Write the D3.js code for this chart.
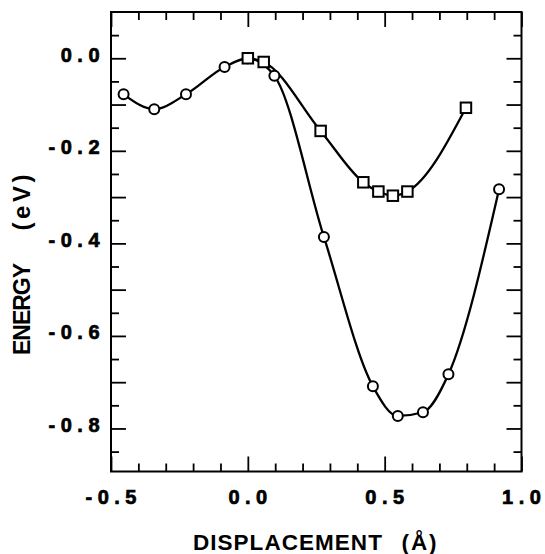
<!DOCTYPE html>
<html>
<head>
<meta charset="utf-8">
<script src="https://cdn.jsdelivr.net/npm/d3@7"></script>
<style>
  html, body { margin: 0; padding: 0; background: #fff; }
  svg { display: block; }
  text { font-family: "Liberation Sans", Arial, Helvetica, sans-serif; font-weight: bold; fill: #000; }
</style>
</head>
<body>
<svg id="chart" width="545" height="554"></svg>
<script>
// ---- data ----
const circleX = [-0.454, -0.342, -0.226, -0.085, 0.0, 0.097, 0.278, 0.457, 0.548, 0.640, 0.733, 0.918];
const circleY = [-0.078, -0.110, -0.078, -0.019, 0.0, -0.038, -0.386, -0.709, -0.773, -0.765, -0.683, -0.283];
const squareX = [0.0, 0.058, 0.266, 0.422, 0.477, 0.530, 0.583, 0.797];
const squareY = [0.0, -0.008, -0.157, -0.268, -0.288, -0.297, -0.288, -0.107];

const xTickLabels = [-0.5, 0.0, 0.5, 1.0];
const xMajorTicks = [-0.5, 0.0, 0.5, 1.0];
const xMinorTicks = [-0.4, -0.3, -0.2, -0.1, 0.1, 0.2, 0.3, 0.4, 0.6, 0.7, 0.8, 0.9];
const yTickLabels = [0.0, -0.2, -0.4, -0.6, -0.8];
const yMajorTicks = [0.0, -0.1, -0.2, -0.3, -0.4, -0.5, -0.6, -0.7, -0.8];
const yMinorTicks = [0.05, -0.05, -0.15, -0.25, -0.35, -0.45, -0.55, -0.65, -0.75, -0.85];

const xTitle = ["DISPLACEMENT", "(Å)"];
const yTitle = ["ENERGY", "(eV)"];

// ---- layout ----
const L = 111, R = 521.5, T = 12, B = 471.5;
const x = d3.scaleLinear().domain([-0.5, 1.0]).range([L, R]);
const y = d3.scaleLinear().domain([0.1, -0.893]).range([T, B]);

const svg = d3.select("#chart");
const fmt = d3.format(".1f");
const fmtLabel = v => fmt(v).replace("−", "-");

// ticks (inward) using d3 axes
function addAxis(axisGen, transform, values, size) {
  const g = svg.append("g").attr("transform", transform)
    .call(axisGen.tickValues(values).tickSize(size).tickSizeOuter(0).tickFormat(""));
  g.select(".domain").remove();
  g.selectAll(".tick line").attr("stroke", "#000").attr("stroke-width", 1.8);
  return g;
}
addAxis(d3.axisBottom(x), `translate(0,${B})`, xMajorTicks, -15);
addAxis(d3.axisBottom(x), `translate(0,${B})`, xMinorTicks, -8);
addAxis(d3.axisTop(x), `translate(0,${T})`, xMajorTicks, -15);
addAxis(d3.axisTop(x), `translate(0,${T})`, xMinorTicks, -8);
addAxis(d3.axisLeft(y), `translate(${L},0)`, yMajorTicks, -15);
addAxis(d3.axisLeft(y), `translate(${L},0)`, yMinorTicks, -8);
addAxis(d3.axisRight(y), `translate(${R},0)`, yMajorTicks, -15);
addAxis(d3.axisRight(y), `translate(${R},0)`, yMinorTicks, -8);

// frame
svg.append("rect").attr("x", L).attr("y", T).attr("width", R - L).attr("height", B - T)
  .attr("fill", "none").attr("stroke", "#000").attr("stroke-width", 2);

// tick labels: spaced characters via tspans (no trailing space)
const LS = 5.5;
function spaced(sel) {
  sel.each(function(d) {
    const t = d3.select(this);
    fmtLabel(d).split("").forEach((ch, i) => {
      t.append("tspan").attr("dx", i === 0 ? 0 : LS).text(ch);
    });
  });
}
svg.append("g").selectAll("text").data(xTickLabels).join("text")
  .attr("x", d => x(d)).attr("y", 503.5)
  .attr("text-anchor", "middle").style("font-size", "20px")
  .attr("stroke", "#000").attr("stroke-width", 0.7)
  .call(spaced);
svg.append("g").selectAll("text").data(yTickLabels).join("text")
  .attr("x", 99.5).attr("y", d => y(d) + 3.5)
  .attr("text-anchor", "end").style("font-size", "20px")
  .attr("stroke", "#000").attr("stroke-width", 0.7)
  .call(spaced);

// axis titles
svg.append("text").attr("x", 287.4).attr("y", 549.5).attr("text-anchor", "middle")
  .style("font-size", "22.5px").attr("textLength", 189).attr("lengthAdjust", "spacing").text(xTitle[0]);
svg.append("text").attr("x", 419).attr("y", 549.5).attr("text-anchor", "middle")
  .style("font-size", "22.5px").attr("textLength", 35).attr("lengthAdjust", "spacing").text(xTitle[1]);
svg.append("text").attr("transform", "translate(29.5,309) rotate(-90)").attr("text-anchor", "middle")
  .style("font-size", "23px").attr("textLength", 92).attr("lengthAdjust", "spacing").text(yTitle[0]);
svg.append("text").attr("transform", "translate(29.5,202.5) rotate(-90)").attr("text-anchor", "middle")
  .style("font-size", "24px").attr("textLength", 56).attr("lengthAdjust", "spacing").text(yTitle[1]);

// series
const circles = circleX.map((v, i) => [v, circleY[i]]);
const squares = squareX.map((v, i) => [v, squareY[i]]);
const line = d3.line().x(d => x(d[0])).y(d => y(d[1])).curve(d3.curveMonotoneX);

svg.append("path").attr("d", line(circles)).attr("fill", "none").attr("stroke", "#000").attr("stroke-width", 2.3);
svg.append("path").attr("d", line(squares)).attr("fill", "none").attr("stroke", "#000").attr("stroke-width", 2.3);

svg.append("g").selectAll("circle").data(circles).join("circle")
  .attr("cx", d => x(d[0])).attr("cy", d => y(d[1])).attr("r", 5)
  .attr("fill", "#fff").attr("stroke", "#000").attr("stroke-width", 2);

const S = 10.5;
svg.append("g").selectAll("rect").data(squares).join("rect")
  .attr("x", d => x(d[0]) - S / 2).attr("y", d => y(d[1]) - S / 2).attr("width", S).attr("height", S)
  .attr("fill", "#fff").attr("stroke", "#000").attr("stroke-width", 2);
</script>
</body>
</html>
